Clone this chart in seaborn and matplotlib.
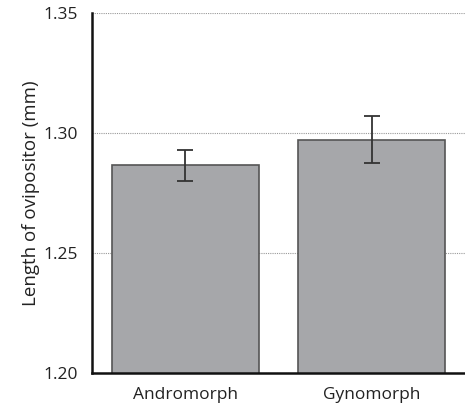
import numpy as np
import pandas as pd
import matplotlib
matplotlib.use("Agg")
import matplotlib.pyplot as plt
import seaborn as sns

# Data
morphs = ["Andromorph", "Gynomorph"]
mean_length = [1.2865, 1.2973]
err_length = [0.0065, 0.0097]

data = pd.DataFrame({"morph": morphs, "length": mean_length})

sns.set_style("white")
plt.rcParams["font.family"] = ["Open Sans", "DejaVu Sans"]

fig = plt.figure(figsize=(4.65, 4.09), dpi=100)
ax = fig.add_axes([0.198, 0.088, 0.802, 0.880])

sns.barplot(data=data, x="morph", y="length", color="#a6a7aa",
            edgecolor="#555555", linewidth=1.2, width=0.79,
            errorbar=None, saturation=1, ax=ax, zorder=2)
ax.errorbar(x=np.arange(len(morphs)), y=mean_length, yerr=err_length,
            fmt="none", ecolor="#333333", elinewidth=1.3, capsize=6,
            capthick=1.3, zorder=3)

ax.set_ylim(1.20, 1.35)
ax.set_xlim(-0.5, 1.5)
ax.set_yticks([1.20, 1.25, 1.30, 1.35])
ax.set_yticklabels(["1.20", "1.25", "1.30", "1.35"])
ax.yaxis.grid(True, linestyle=(0, (1, 1)), color="#999999", linewidth=0.8)
ax.set_axisbelow(True)

sns.despine(ax=ax, top=True, right=True)
ax.spines["left"].set_linewidth(1.8)
ax.spines["bottom"].set_linewidth(1.8)
ax.spines["left"].set_color("#111111")
ax.spines["bottom"].set_color("#111111")

ax.tick_params(axis="y", length=0, labelsize=12.5, colors="#222222", pad=10)
ax.tick_params(axis="x", length=0, labelsize=12.5, colors="#222222", pad=10)
ax.set_xlabel("")
ax.set_ylabel("Length of ovipositor (mm)", fontsize=13.5, color="#222222", labelpad=3)

fig.savefig("out.png", dpi=100)
